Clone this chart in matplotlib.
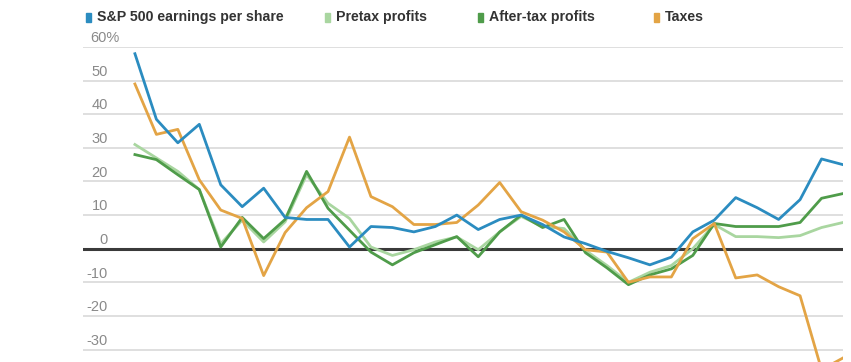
import matplotlib.pyplot as plt
from matplotlib.patches import Rectangle

# annual % change
years = list(range(1985, 2019))
eps = [58, 38.5, 31.5, 37, 19, 12.5, 18, 9.3, 8.7, 8.7, 0.5, 6.6, 6.3, 5, 6.6, 10, 5.7,
       8.7, 10, 7.2, 3.5, 1.5, -0.8, -2.7, -4.8, -2.5, 5, 8.5, 15.2, 12.2, 8.7, 14.6, 26.7, 25]
pretax = [31, 27, 23, 17.6, 1.5, 8.5, 2, 8, 22, 13.5, 9, 0.5, -2, -0.3, 2, 3.5, -0.3,
          5, 9.6, 6.6, 6, -0.5, -5, -10, -7, -5, 0, 7.2, 3.6, 3.6, 3.3, 3.9, 6.3, 7.8]
aftertax = [28, 26.5, 22, 17.6, 0.5, 9.3, 3, 8.7, 23, 12, 5.5, -1, -4.8, -1.2, 1.2, 3.6, -2.4,
            5, 10, 6.3, 8.7, -1.2, -5.7, -10.7, -7.8, -6, -2, 7.5, 6.6, 6.6, 6.6, 7.8, 15, 16.4]
taxes = [49, 34, 35.5, 20.5, 11.5, 9, -8, 4.8, 12.2, 17, 33.2, 15.5, 12.5, 7.2, 7.2, 7.8, 13,
         19.7, 11, 8.5, 5, -0.3, -1, -10, -8.4, -8.4, 3, 7.5, -8.7, -7.8, -11.3, -14, -36, -32.5]

yticks = [60, 50, 40, 30, 20, 10, 0, -10, -20, -30]
ytick_labels = ["60%", "50", "40", "30", "20", "10", "0", "-10", "-20", "-30"]

labels = ["S&P 500 earnings per share", "Pretax profits", "After-tax profits", "Taxes"]
colors = ["#2b8cc0", "#a9d6a0", "#4f9c4a", "#e3a445"]

plt.rcParams['font.family'] = ['Liberation Sans Narrow', 'Liberation Sans', 'DejaVu Sans']

W, H = 851, 362
fig = plt.figure(figsize=(W / 100, H / 100), dpi=100)
ax = fig.add_axes([83 / W, 0, 760 / W, 1 - 47 / H])

for y in yticks:
    if y != 0:
        ax.axhline(y, color="#dcdcdc", lw=1.3, zorder=1)
ax.axhline(0, color="#3a3a3a", lw=2.2, zorder=2)

# blue drawn last so it sits on top
for s, c, z in [(pretax, colors[1], 3.1), (aftertax, colors[2], 3.2),
                (taxes, colors[3], 3.3), (eps, colors[0], 3.4)]:
    ax.plot(years, s, color=c, lw=2.0, zorder=z)

ax.set_xlim(years[0] - 2.42, years[-1])
ax.set_ylim(-33.7, 60)
ax.axis("off")

tr = ax.get_yaxis_transform()
for y, lab in zip(yticks, ytick_labels):
    if lab.endswith("%"):
        ax.text((90 - 83) / 760, y + 2.6, lab, ha="left", va="center",
                fontsize=10.5, color="#8a8a8a", transform=tr, clip_on=False)
    else:
        ax.text((108 - 83) / 760, y + 2.6, lab, ha="right", va="center",
                fontsize=10.5, color="#8a8a8a", transform=tr, clip_on=False)

# legend row along the top
leg_x = [86, 325, 478, 654]
for x, lab, c in zip(leg_x, labels, colors):
    fig.patches.append(Rectangle((x / W, 1 - 22 / H), 5 / W, 9 / H, color=c,
                                 transform=fig.transFigure))
    fig.text((x + 11) / W, 1 - 17 / H, lab, ha="left", va="center", fontsize=10.2,
             fontweight="bold", color="#333333")

fig.savefig("out.png", dpi=100)
